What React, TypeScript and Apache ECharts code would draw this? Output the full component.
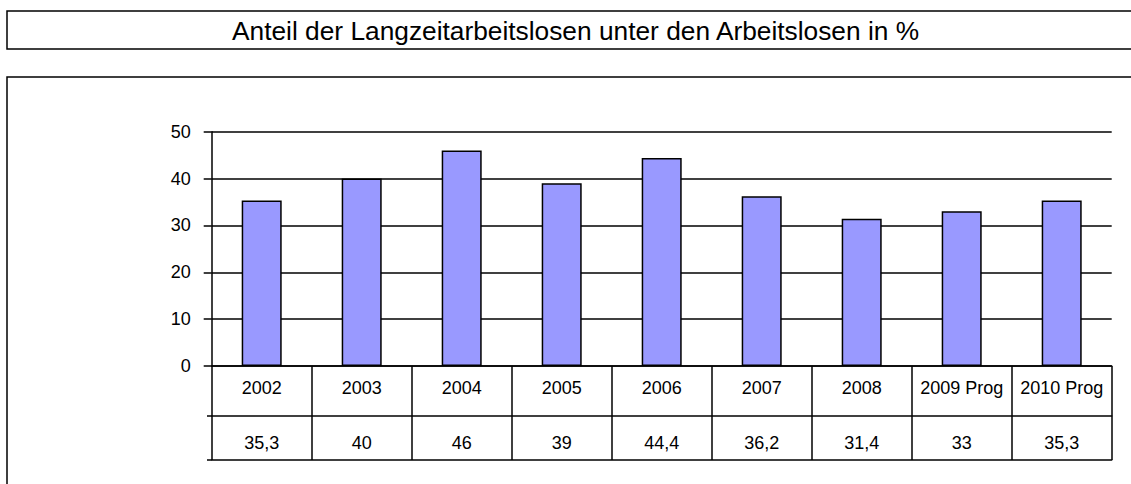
import React, { useEffect, useRef } from "react";
import * as echarts from "echarts";

const titleText = "Anteil der Langzeitarbeitslosen unter den Arbeitslosen in %";
const categories = ["2002", "2003", "2004", "2005", "2006", "2007", "2008", "2009 Prog", "2010 Prog"];
const values = [35.3, 40, 46, 39, 44.4, 36.2, 31.4, 33, 35.3];
const yTicks = [0, 10, 20, 30, 40, 50];

const FONT = "Liberation Sans, Arial, sans-serif";
const fmt = (v: number) => String(v).replace(".", ",");

export default function App() {
  const ref = useRef<HTMLDivElement>(null);
  useEffect(() => {
    const chart = echarts.init(ref.current!, null, { renderer: "svg" });
    const gridLeft = 211.7;
    const gridRight = 1111.7;
    const gridTop = 131.7;
    const gridBottomY = 366;
    const row1 = 416;
    const row2 = 460;
    const lineStyle = { color: "#000", width: 1.5 };
    const baseX = {
      type: "category" as const,
      data: categories,
      boundaryGap: true,
      position: "bottom" as const,
    };
    chart.setOption({
      animation: false,
      title: {
        text: titleText,
        left: 227,
        top: 13,
        textStyle: { fontFamily: FONT, fontSize: 26.3, fontWeight: "normal", color: "#000" },
      },
      graphic: [
        { type: "rect", shape: { x: 7, y: 11, width: 1140, height: 38 }, style: { fill: "none", stroke: "#000", lineWidth: 1.5 }, silent: true },
        { type: "rect", shape: { x: 7, y: 77, width: 1140, height: 420 }, style: { fill: "none", stroke: "#000", lineWidth: 1.5 }, silent: true },
        { type: "line", shape: { x1: 207, y1: row1, x2: gridLeft, y2: row1 }, style: { stroke: "#000", lineWidth: 1.5 } },
        { type: "line", shape: { x1: 207, y1: row2, x2: gridLeft, y2: row2 }, style: { stroke: "#000", lineWidth: 1.5 } },
      ],
      grid: { left: gridLeft, right: 1131 - gridRight, top: gridTop, bottom: 484 - gridBottomY, containLabel: false },
      xAxis: [
        {
          ...baseX,
          axisLine: { show: true, lineStyle },
          axisTick: { show: true, interval: 0, length: row2 - gridBottomY, inside: false, lineStyle },
          axisLabel: { interval: 0, margin: 13, fontFamily: FONT, fontSize: 18, color: "#000" },
          splitLine: { show: false },
        },
        {
          ...baseX,
          offset: row1 - gridBottomY,
          axisLine: { show: true, lineStyle },
          axisTick: { show: false },
          axisLabel: {
            interval: 0,
            margin: 18,
            fontFamily: FONT,
            fontSize: 18,
            color: "#000",
            formatter: (_: string, i: number) => fmt(values[i]),
          },
        },
        {
          ...baseX,
          offset: row2 - gridBottomY,
          axisLine: { show: true, lineStyle },
          axisTick: { show: false },
          axisLabel: { show: false },
        },
      ],
      yAxis: {
        type: "value",
        min: yTicks[0],
        max: yTicks[yTicks.length - 1],
        interval: 10,
        axisLine: { show: true, lineStyle },
        axisTick: { show: true, length: 8, lineStyle },
        axisLabel: { margin: 21, fontFamily: FONT, fontSize: 18, color: "#000" },
        splitLine: { show: true, lineStyle: { color: "#000", width: 1.5 } },
      },
      series: [
        {
          type: "bar",
          data: values,
          xAxisIndex: 0,
          barWidth: 40,
          itemStyle: { color: "#9999FF", borderColor: "#000", borderWidth: 1.5 },
          z: 3,
        },
      ],
    });
    return () => chart.dispose();
  }, []);
  return (
    <div
      ref={ref}
      style={{ position: "absolute", left: 0, top: 0, width: 1131, height: 484, background: "#fff" }}
    />
  );
}
